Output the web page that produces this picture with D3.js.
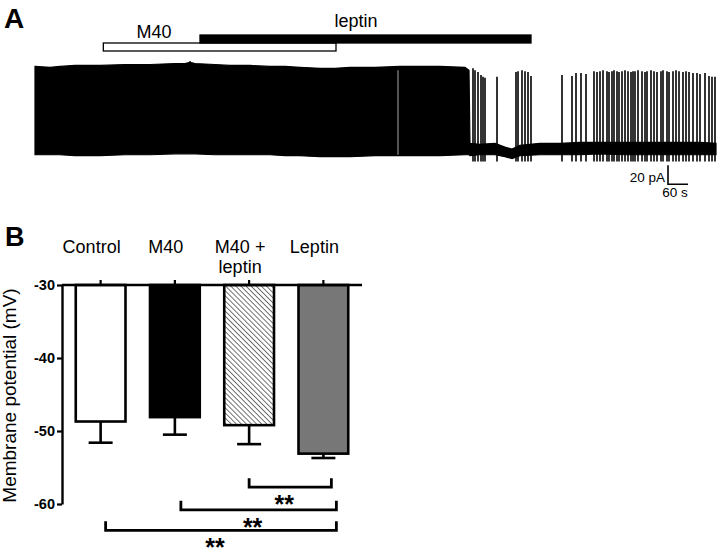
<!DOCTYPE html>
<html>
<head>
<meta charset="utf-8">
<script src="https://cdn.jsdelivr.net/npm/d3@7/dist/d3.min.js"></script>
<style>
  html, body { margin: 0; padding: 0; background: #fff; }
  svg { display: block; font-family: "Liberation Sans", Arial, sans-serif; }
</style>
</head>
<body>
<svg id="chart" width="720" height="550"></svg>
<script>
// ---------------- Panel A data (recording trace) ----------------
// envelope of dense firing / baseline noise: time (s), top (pA), bottom (pA)
const envTime   = [0, 45, 75, 120, 195, 270, 345, 420, 450, 462, 465, 468, 480, 540, 585, 645, 705, 750, 795, 855, 900, 945, 1020, 1095, 1155, 1215, 1290, 1302, 1305, 1335, 1380, 1410, 1431, 1455, 1515, 1575, 1635, 1695, 1770, 1845, 1920, 1995, 2043];
const envTop    = [88, 87, 88, 89, 89, 90, 90, 91, 91, 92, 93, 92, 91, 90, 89, 89, 88, 88, 87, 86, 86, 87, 87, 88, 88, 88, 87, 84, 7, 6, 7, 3, 1, 5, 7, 7, 8, 8, 8, 8, 8, 8, 7];
const envBottom = [-5, -5, -5, -6, -6, -5, -5, -4, -4, -4, -4, -4, -4, -5, -5, -5, -5, -6, -6, -7, -7, -7, -6, -6, -6, -6, -5, -5, -6, -5, -5, -7, -9, -6, -5, -5, -5, -4, -5, -5, -5, -5, -5];
// isolated spikes after the dense firing: time (s), peak (pA)
const spikeTimes = [1314, 1320, 1329, 1338, 1344, 1350, 1386, 1443, 1449, 1461, 1470, 1479, 1488, 1581, 1611, 1623, 1638, 1653, 1677, 1686, 1695, 1704, 1716, 1722, 1731, 1737, 1746, 1752, 1761, 1770, 1779, 1788, 1794, 1800, 1809, 1821, 1830, 1836, 1848, 1857, 1866, 1878, 1884, 1896, 1902, 1914, 1923, 1932, 1944, 1953, 1962, 1974, 1986, 1995, 2010, 2022, 2031, 2040];
const spikePeaks = [86, 84, 82, 79, 77, 76, 77, 82, 83, 84, 83, 82, 78, 79, 78, 81, 81, 80, 83, 82, 83, 84, 83, 82, 83, 84, 83, 82, 83, 84, 83, 82, 83, 83, 84, 83, 82, 83, 84, 83, 82, 83, 84, 83, 82, 83, 84, 83, 82, 83, 82, 81, 81, 80, 81, 78, 77, 77];
const spikeTrough = -12;
const gapTimes = [1089];
// drug applications
const drugNames = ["M40", "leptin"];
const drugStart = [205, 495];
const drugEnd   = [903, 1488];
const drugLabelTime = [357, 963];
// scale bar
const scaleBarCurrent = 20;   // pA
const scaleBarTime = 60;      // s
const scaleBarAt = [1899, -36]; // time (s), current (pA) of the corner

// ---------------- Panel B data ----------------
const categories = ["Control", "M40", "M40 + leptin", "Leptin"];
const categoryLines = [["Control"], ["M40"], ["M40 +", "leptin"], ["Leptin"]];
const meanPotential = [-48.7, -48.1, -49.2, -53.1];
const semPotential  = [2.9, 2.4, 2.6, 0.6];
const yTicks = [-30, -40, -50, -60];
const bracketFrom = ["M40 + leptin", "M40", "Control"];
const bracketTo   = ["Leptin", "Leptin", "Leptin"];
const bracketLevel = [-57.7, -60.8, -63.6];
const bracketLabel = ["**", "**", "**"];

// ---------------- drawing ----------------
const svg = d3.select("#chart");
svg.append("rect").attr("width", 720).attr("height", 550).attr("fill", "#fff");

const defs = svg.append("defs");
const pat = defs.append("pattern")
  .attr("id", "hatch").attr("patternUnits", "userSpaceOnUse")
  .attr("width", 3.6).attr("height", 3.6)
  .attr("patternTransform", "rotate(-45)");
pat.append("rect").attr("width", 3.6).attr("height", 3.6).attr("fill", "#fff");
pat.append("line").attr("x1", 0).attr("y1", 0).attr("x2", 0).attr("y2", 3.6)
  .attr("stroke", "#000").attr("stroke-width", 1.1);

// Panel letters
svg.append("text").attr("x", 4).attr("y", 28).attr("font-size", 28).attr("font-weight", "bold").text("A");
svg.append("text").attr("x", 5).attr("y", 246).attr("font-size", 27).attr("font-weight", "bold").text("B");

// ----- Panel A -----
const xT = d3.scaleLinear().domain([0, 2043]).range([35, 716]);
const yI = d3.scaleLinear().domain([-20, 100]).range([169, 55]);

const gA = svg.append("g");
const envData = envTime.map((t, i) => ({t, top: envTop[i], bot: envBottom[i]}));
gA.append("path")
  .datum(envData)
  .attr("d", d3.area().x(d => xT(d.t)).y0(d => yI(d.bot)).y1(d => yI(d.top)))
  .attr("fill", "#000").attr("stroke", "#000").attr("stroke-width", 1.2);

gA.selectAll("line.gap").data(gapTimes).join("line")
  .attr("class", "gap")
  .attr("x1", d => xT(d)).attr("x2", d => xT(d))
  .attr("y1", yI(84)).attr("y2", yI(-5))
  .attr("stroke", "#aaa").attr("stroke-width", 1);

gA.selectAll("line.spike").data(spikeTimes).join("line")
  .attr("class", "spike")
  .attr("x1", d => xT(d)).attr("x2", d => xT(d))
  .attr("y1", yI(spikeTrough)).attr("y2", (d, i) => yI(spikePeaks[i]))
  .attr("stroke", "#000").attr("stroke-width", 1.6);

// drug bars
const drugTop = [43, 35];
drugNames.forEach((name, i) => {
  gA.append("rect")
    .attr("x", xT(drugStart[i])).attr("y", drugTop[i])
    .attr("width", xT(drugEnd[i]) - xT(drugStart[i]))
    .attr("height", 8)
    .attr("fill", i === 0 ? "#fff" : "#000")
    .attr("stroke", "#000").attr("stroke-width", 1.3);
});
gA.append("text").attr("x", xT(drugLabelTime[0])).attr("y", 38)
  .attr("text-anchor", "middle").attr("font-size", 18).text(drugNames[0]);
gA.append("text").attr("x", xT(drugLabelTime[1])).attr("y", 27)
  .attr("text-anchor", "middle").attr("font-size", 18).text(drugNames[1]);

// scale bar
const sbx = xT(scaleBarAt[0]), sby = yI(scaleBarAt[1]);
const sbTopY = yI(scaleBarAt[1] + scaleBarCurrent);
const sbRightX = xT(scaleBarAt[0] + scaleBarTime);
gA.append("path")
  .attr("d", `M${sbx},${sbTopY}V${sby}H${sbRightX}`)
  .attr("fill", "none").attr("stroke", "#000").attr("stroke-width", 1.6);
gA.append("text").attr("x", sbx - 3).attr("y", 182).attr("text-anchor", "end")
  .attr("font-size", 13.5).text(scaleBarCurrent + " pA");
gA.append("text").attr("x", (sbx + sbRightX) / 2 - 3).attr("y", 197).attr("text-anchor", "middle")
  .attr("font-size", 13.5).text(scaleBarTime + " s");

// ----- Panel B -----
const xB = d3.scaleBand().domain(categories).range([63.5, 360.5]).paddingInner(0.33).paddingOuter(0.165);
const yV = d3.scaleLinear().domain([-30, -60]).range([285, 504]);
const gB = svg.append("g");
const fills = ["#fff", "#000", "url(#hatch)", "#777"];

// bars
gB.selectAll("rect.bar").data(categories).join("rect")
  .attr("class", "bar")
  .attr("x", d => xB(d)).attr("width", xB.bandwidth())
  .attr("y", yV(-30))
  .attr("height", (d, i) => yV(meanPotential[i]) - yV(-30))
  .attr("fill", (d, i) => fills[i])
  .attr("stroke", "#000").attr("stroke-width", 2.6);

// error bars
categories.forEach((c, i) => {
  const cx = xB(c) + xB.bandwidth() / 2;
  const y0 = yV(meanPotential[i]), y1 = yV(meanPotential[i] - semPotential[i]);
  gB.append("line").attr("x1", cx).attr("x2", cx).attr("y1", y0).attr("y2", y1)
    .attr("stroke", "#000").attr("stroke-width", 2.6);
  gB.append("line").attr("x1", cx - 12).attr("x2", cx + 12).attr("y1", y1).attr("y2", y1)
    .attr("stroke", "#000").attr("stroke-width", 2.6);
});

// top category axis
const topAxis = gB.append("g").attr("transform", `translate(0,${yV(-30)})`)
  .call(d3.axisTop(xB).tickSize(5).tickSizeOuter(0).tickFormat(""));
topAxis.select(".domain").remove();
topAxis.selectAll(".tick line").attr("stroke-width", 2.2);
gB.append("line").attr("x1", 62).attr("x2", 362).attr("y1", yV(-30)).attr("y2", yV(-30))
  .attr("stroke", "#000").attr("stroke-width", 2.4);

// category labels
categories.forEach((c, i) => {
  const cx = xB(c) + xB.bandwidth() / 2 - 9;
  const t = gB.append("text").attr("text-anchor", "middle").attr("font-size", 18);
  categoryLines[i].forEach((ln, j) => {
    t.append("tspan").attr("x", cx).attr("y", 253 + j * 19.5).text(ln);
  });
});

// left axis
const leftAxis = gB.append("g").attr("transform", "translate(62,0)")
  .call(d3.axisLeft(yV).tickValues(yTicks).tickSize(5).tickSizeOuter(0).tickPadding(2)
    .tickFormat(d => String(d)));
leftAxis.select(".domain").attr("stroke-width", 2.4);
leftAxis.selectAll(".tick line").attr("stroke-width", 2.2);
leftAxis.selectAll(".tick text")
  .attr("font-family", "'Liberation Sans', Arial, sans-serif")
  .attr("font-size", 14.5).attr("font-weight", "bold").attr("fill", "#000");

// y label
gB.append("text")
  .attr("transform", `translate(16,${(yV(-30) + yV(-60)) / 2 + 1}) rotate(-90)`)
  .attr("text-anchor", "middle").attr("font-size", 19)
  .text("Membrane potential (mV)");

// significance brackets
const leftOffsets = [0, 6, 5];
bracketFrom.forEach((a, i) => {
  const x1 = xB(a) + xB.bandwidth() / 2 + leftOffsets[i];
  const x2 = xB(bracketTo[i]) + xB.bandwidth() / 2 + (i === 0 ? 8 : 13);
  const y = yV(bracketLevel[i]);
  gB.append("path")
    .attr("d", `M${x1},${y - 9}V${y}H${x2}V${y - 9}`)
    .attr("fill", "none").attr("stroke", "#000").attr("stroke-width", 2.8);
  gB.append("text")
    .attr("x", (x1 + x2) / 2 - 6).attr("y", y + 26)
    .attr("text-anchor", "middle").attr("font-size", 25).attr("font-weight", "bold")
    .text(bracketLabel[i]);
});
</script>
</body>
</html>
